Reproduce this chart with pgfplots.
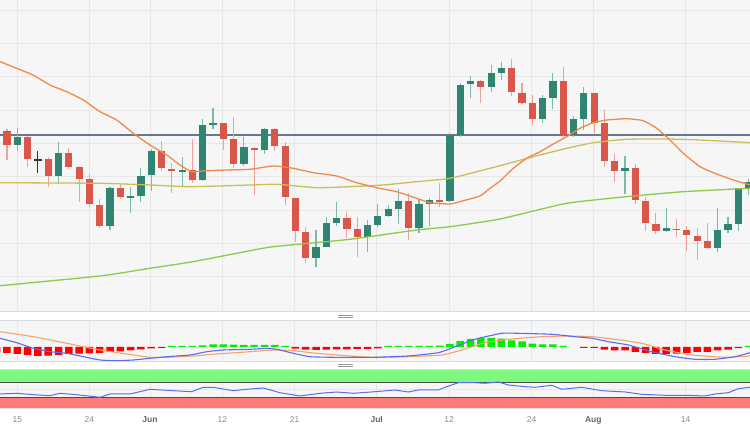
\documentclass[border=0pt]{standalone}
\usepackage{fontspec}
\setmainfont{Liberation Sans}
\usepackage{pgfplots}
\usepackage{pgfplotstable}
\pgfplotsset{compat=1.18}

\definecolor{bg}{HTML}{F6F6F6}
\definecolor{gridc}{HTML}{E7E7E7}
\definecolor{bord}{HTML}{D6DBE6}
\definecolor{gbody}{HTML}{2F8571}
\definecolor{gwick}{HTML}{7DB8A8}
\definecolor{rbody}{HTML}{D8574A}
\definecolor{rwick}{HTML}{EBA39B}
\definecolor{ma20}{HTML}{F08A4B}
\definecolor{ma100}{HTML}{C9BE5C}
\definecolor{ma200}{HTML}{8CCB4A}
\definecolor{level}{HTML}{68778C}
\definecolor{macdblue}{HTML}{5B6CF0}
\definecolor{sigorange}{HTML}{F5A26B}
\definecolor{histred}{HTML}{FF0000}
\definecolor{histgreen}{HTML}{00EE00}
\definecolor{obgreen}{HTML}{7EF87E}
\definecolor{osred}{HTML}{FF7B7B}
\definecolor{tickgray}{HTML}{8C8C8C}
\definecolor{monthgray}{HTML}{666666}

% candles: i = trading-day index (0 = 15 May), prices in chart pixel units (down = lower)
\pgfplotstableread{
i o h l c
0 145 128.3 150.7 136.7
4 175.7 142.3 182.7 152.7
9 226 186.7 230 188.3
11 197.3 186.7 213.3 196.3
12 196 168.3 201.7 175.7
13 175 149.3 190.7 150.7
16 171.3 157.3 186 170
18 180 119.3 180.7 125
19 125 107.7 129.3 123.3
22 164.3 136.7 166 147.3
24 150 128.3 154 129.3
29 258.3 230 267.3 246.7
30 246.7 216.7 247.3 223.3
31 223.3 202.3 226 218.3
34 237.3 220 251.7 225.3
35 225.3 204 226.7 215.7
36 215.7 205 217.3 209.3
37 209.3 189 224 200.7
39 227.7 199.3 233.3 204
40 204 198.3 225.7 200
42 200.7 132.7 201.7 135
43 135 83.3 136.7 85
44 84 76 97.7 81
46 86.7 65 92.3 72.7
47 72.7 61.7 80 67.7
51 119.3 95 123.3 97.7
52 97.7 73.3 109 81
54 135 115.7 136.7 119.3
55 119.3 87.3 130 93.3
59 171 155.7 194 167.7
63 230.7 208.3 232.3 228.3
68 248.3 208.3 251.7 230
69 230 216.7 232.7 224.3
70 224.3 188.3 230.7 188.3
71 188.3 179 195 181.7
}\greentab

\pgfplotstableread{
i o h l c
-2 52 45 135 131
-1 130.7 129 160 145
1 136.7 136 166.7 159
3 159.3 157.3 186.7 175.7
5 152.7 148.3 169 166.7
6 167.3 166 201.7 179
7 179 174 206.7 204.3
8 205 199.3 228.3 226
10 188.3 183.3 199 197.3
14 150.7 141 170.7 168.3
15 169 163.3 192.7 171
17 170 139 182.7 180
20 123.3 123.3 150 139
21 139 116.7 168.3 164.3
23 148 147 195 150
25 129.3 128.3 150.7 146
26 146 141.7 205 197.3
27 197.7 197.7 241.7 231
28 231.7 226.7 262.7 258.3
32 218.3 211.7 238.3 229.3
33 229.3 217.3 256.7 237.3
38 200.7 192.7 240 227.7
41 200 183.3 207.3 201.2
45 81 80 103.3 86.7
48 67.7 59.3 95.7 92.3
49 92.7 82.7 104 102.7
50 103.3 95 125 119.3
53 81 66.7 139.3 135
56 93.3 92.7 133.3 122.7
57 123.3 110 166.7 160.7
58 161 154 182.3 171
60 167.7 164 204 200
61 200.7 196.7 230.7 223.3
62 224 213.3 234.3 230.7
64 228.7 219.3 237.3 230.2
65 230 226 250.7 235.3
66 236 228.3 260 240.7
67 240.7 223.3 249 248.3
}\redtab

\pgfplotstableread{
i o h l c
2 159.3 150.7 173.3 159.9
}\dojitab

\pgfplotstableread{
i h
-2 5.5
-1 6
0 7
1 8
2 9
3 8.7
4 8
5 7
6 6.7
7 6.3
8 6
9 5
10 4.3
11 3.3
12 2.3
13 1.3
14 1
27 1.7
28 2.7
29 3
30 2.7
31 2.3
32 2.3
33 2
34 2
35 1.3
55 1
56 1
57 2.7
58 3.3
59 3.3
60 5
61 6
62 7
63 7
64 6.7
65 6
66 5
67 5
68 3.3
69 2.7
70 1.2
}\histredtab

\pgfplotstableread{
i h
15 -1
16 -1
17 -1
18 -1.7
19 -2.7
20 -2.7
21 -2.3
22 -2
23 -2
24 -2
25 -2
26 -1
36 -1
37 -1
38 -1
39 -1
40 -1
41 -1.3
42 -3
43 -6
44 -8
45 -9
46 -9
47 -8.3
48 -6.7
49 -5.7
50 -3.3
51 -2.7
52 -2.7
53 -1
71 -1
}\histgreentab

\pgfplotsset{
  panel/.style={
    scale only axis, width=750pt, xmin=0, xmax=750,
    axis background/.style={fill=bg},
    axis line style={draw=none},
    xtick={17.3,89.3,150,222.3,294.5,376.7,449,531.7,593.3,685.7},
    xticklabels={}, tick style={draw=none},
    xmajorgrids, major grid style={draw=gridc, line width=0.8pt},
    clip=true,
  },
  wick/.style={draw=none, mark=none, error bars/.cd, y dir=both, y explicit, error mark=none,
    error bar style={draw=#1, line width=1.1pt}},
  body/.style={draw=none, mark=none, error bars/.cd, y dir=both, y explicit, error mark=none,
    error bar style={draw=#1, line width=7.2pt}},
}

\begin{document}
\begin{tikzpicture}
\path[use as bounding box, fill=white] (0pt,0pt) rectangle (750pt,430pt);

% ---------------- main price panel ----------------
\begin{axis}[panel, at={(0pt,118pt)}, anchor=south west, height=312pt,
  ymin=0, ymax=312, y dir=reverse,
  ytick={10,43.3,76.7,110,143.3,176.7,210,243.3,276.7}, yticklabels={},
  ymajorgrids]
\addplot[level, line width=1.3pt] coordinates {(0,135) (750,135)};
% wicks
\addplot[wick=gwick] table[x expr=17.3+10.3*\thisrow{i}, y expr=(\thisrow{h}+\thisrow{l})/2, y error expr=(\thisrow{l}-\thisrow{h})/2]{\greentab};
\addplot[wick=rwick] table[x expr=17.3+10.3*\thisrow{i}, y expr=(\thisrow{h}+\thisrow{l})/2, y error expr=(\thisrow{l}-\thisrow{h})/2]{\redtab};
\addplot[wick=black!80] table[x expr=17.3+10.3*\thisrow{i}, y expr=(\thisrow{h}+\thisrow{l})/2, y error expr=(\thisrow{l}-\thisrow{h})/2]{\dojitab};
% bodies
\addplot[body=gbody] table[x expr=17.3+10.3*\thisrow{i}, y expr=(\thisrow{o}+\thisrow{c})/2, y error expr={max(abs(\thisrow{o}-\thisrow{c})/2,0.7)}]{\greentab};
\addplot[body=rbody] table[x expr=17.3+10.3*\thisrow{i}, y expr=(\thisrow{o}+\thisrow{c})/2, y error expr={max(abs(\thisrow{o}-\thisrow{c})/2,0.7)}]{\redtab};
\addplot[body=black!80] table[x expr=17.3+10.3*\thisrow{i}, y expr=(\thisrow{o}+\thisrow{c})/2, y error expr={max(abs(\thisrow{o}-\thisrow{c})/2,0.5)}]{\dojitab};
% moving averages
\addplot[ma200, line width=1.3pt, smooth, tension=0.3] coordinates {
(0,285.7) (100,276) (150,268.3) (193,261.7) (250,250.7) (273.3,246.7) (350,239.3) (416.7,230) (450,226.7) (500,219) (566.7,203.3) (633.3,196) (683.3,191.7) (750,188.3)};
\addplot[ma100, line width=1.3pt, smooth, tension=0.3] coordinates {
(0,182.7) (100,183.3) (150,185) (190,186.7) (250,185) (276.7,184.3) (316.7,187.7) (350,186.7) (383.3,185) (416.7,181.7) (450,178.3) (483.3,170) (500,165.7) (533.3,156.7) (566.7,148.3) (593.3,142.7) (626.7,139.3) (666.7,139) (700,140) (750,142.7)};
\addplot[ma20, line width=1.3pt, smooth, tension=0.3] coordinates {
(0,61.7) (16.7,68.3) (33,75) (50,85) (66.7,91.7) (83.3,100) (100,111.7) (116.7,120) (133.3,133.3) (150,145) (166.7,155) (180,165) (191.7,171.7) (206.7,170.7) (226.7,170) (250,169.3) (273.3,166) (293.3,168.3) (313.3,172.7) (336.7,176) (356.7,182.7) (376.7,187.7) (396.7,191.7) (416.7,198.3) (430,202.7) (450,204) (463.3,200.7) (480,196) (490,188.3) (500,181) (513.3,168.3) (526.7,158.3) (540,151.7) (553.3,144) (566.7,136.7) (580,128.3) (593.3,122.7) (606.7,120) (626.7,118.7) (643.3,120.7) (656.7,128.3) (670,140) (683.3,153.3) (700,166.7) (716.7,174) (733.3,180) (750,185)};
\draw[bord, line width=1pt] (rel axis cs:0,0) -- (rel axis cs:1,0);
\draw[bord, line width=1pt] (rel axis cs:0,1) -- (rel axis cs:1,1);
\end{axis}

% ---------------- MACD panel ----------------
\begin{axis}[panel, at={(0pt,68pt)}, anchor=south west, height=41pt,
  ymin=-26, ymax=15, y dir=reverse, ytick=\empty]
\addplot[ybar, bar width=7.5pt, bar shift=0pt, fill=histred, draw=none]
  table[x expr=17.3+10.3*\thisrow{i}, y=h]{\histredtab};
\addplot[ybar, bar width=7.5pt, bar shift=0pt, fill=histgreen, draw=none]
  table[x expr=17.3+10.3*\thisrow{i}, y=h]{\histgreentab};
\addplot[sigorange, line width=1.1pt, smooth, tension=0.3] coordinates {
(0,-15.3) (33.3,-10.3) (66.7,-3.7) (100,3) (133.3,8) (150,10.3) (166.7,10.3) (193.3,9) (216.7,7) (250,4.7) (273.3,3) (293.3,3.7) (316.7,6.3) (350,9) (375,10.3) (408.3,9.7) (441.7,8) (461.7,3) (485,-4.3) (508.3,-7.7) (541.7,-10.3) (568.3,-11) (591.7,-10.3) (615,-7.7) (641.7,-3.7) (665,3) (691.7,8) (725,10.3) (750,9)};
\addplot[macdblue, line width=1.1pt, smooth, tension=0.3] coordinates {
(0,-8.7) (16.7,-4.3) (33.3,1.3) (50,4.7) (66.7,6.3) (83.3,9.7) (100,13) (116.7,13.7) (133.3,13) (150,11.3) (166.7,9.7) (190,8) (206.7,4.7) (223.3,3) (250,2.3) (266.7,1.3) (276.7,2.3) (293.3,6.3) (310,9.7) (333.3,10.3) (353.3,10.3) (375,10.3) (408,9) (438.3,5.7) (455,-0.3) (475,-7.7) (501.7,-13.7) (518.3,-13.7) (551.7,-12.7) (575,-10.3) (591.7,-8.7) (608.3,-5.3) (628.3,-2) (651.7,4.7) (675,9.7) (695,12.3) (715,12.3) (735,9.7) (750,5.7)};
\draw[bord, line width=1pt] (rel axis cs:0,0) -- (rel axis cs:1,0);
\draw[bord, line width=1pt] (rel axis cs:0,1) -- (rel axis cs:1,1);
\end{axis}

% ---------------- RSI panel ----------------
\begin{axis}[panel, at={(0pt,21pt)}, anchor=south west, height=39pt,
  ymin=370, ymax=409, y dir=reverse, ytick={389.5}, yticklabels={}, ymajorgrids,
  xticklabels={15,24,\textbf{\textcolor{monthgray}{Jun}},12,21,\textbf{\textcolor{monthgray}{Jul}},12,24,\textbf{\textcolor{monthgray}{Aug}},14},
  xticklabel style={font=\fontsize{8.5}{10}\selectfont, text=tickgray, anchor=base, yshift=-14pt}]
\addplot[fill=obgreen, draw=none] coordinates {(0,370) (750,370) (750,382) (0,382)} -- cycle;
\addplot[fill=osred, draw=none] coordinates {(0,397) (750,397) (750,409) (0,409)} -- cycle;
\addplot[black!70, line width=0.9pt] coordinates {(0,382) (750,382)};
\addplot[black!70, line width=0.9pt] coordinates {(0,397) (750,397)};
\addplot[macdblue, line width=1pt] coordinates {
(0,394) (16.7,393.3) (33.3,394.7) (50,395.7) (60,393.3) (76.7,394.7) (100,397.3) (110,394) (130,394) (150,389.3) (173.3,390.7) (191.7,391.7) (203.3,387.3) (213.3,387.3) (233.3,390.7) (246.7,389.3) (263.3,388) (280,392.7) (300,396) (320,393.3) (336.7,392) (353.3,393.3) (375,391.7) (395,390) (408.3,392) (418.3,390) (438.3,390) (445,387.3) (458.3,382.7) (475,382.7) (485,383.3) (498.3,382) (508.3,385) (525,386.7) (535,387.3) (551.7,385.3) (561.7,389.3) (581.7,387.3) (601.7,390.7) (625,392) (641.7,394.3) (665,395.3) (685,395.3) (705,396) (715,394) (728.3,392.7) (738.3,388.7) (750,387.3)};
\draw[bord, line width=1pt] (rel axis cs:0,0) -- (rel axis cs:1,0);
\draw[bord, line width=1pt] (rel axis cs:0,1) -- (rel axis cs:1,1);
\end{axis}

% panel resize handles
\draw[black!40, line width=0.8pt] (338pt,115pt) -- (353pt,115pt) (338pt,112.6pt) -- (353pt,112.6pt);
\draw[black!40, line width=0.8pt] (338pt,65.5pt) -- (353pt,65.5pt) (338pt,63.1pt) -- (353pt,63.1pt);
\end{tikzpicture}
\end{document}
